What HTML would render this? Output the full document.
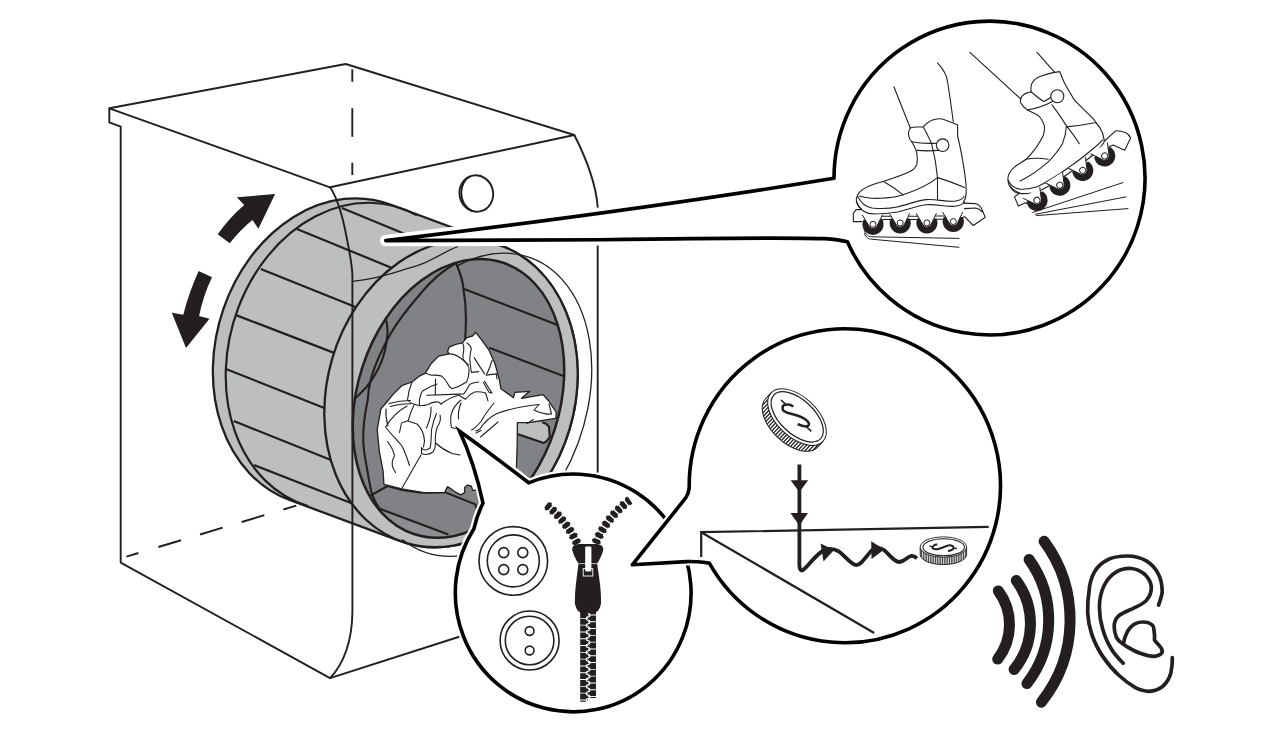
<!DOCTYPE html>
<html><head><meta charset="utf-8">
<style>
html,body{margin:0;padding:0;background:#fff;}
body{width:1283px;height:733px;overflow:hidden;font-family:"Liberation Sans",sans-serif;}
svg{display:block;}
</style></head><body>
<svg width="1283" height="733" viewBox="0 0 1283 733">
<rect width="1283" height="733" fill="#fff"/>

<g fill="none" stroke="#231F20" stroke-width="1.9" stroke-linejoin="round">
<path d="M109.3 108.3 L345.7 64 L574.3 135 L330 187.3 Z"/>
<path d="M109.3 108.3 V122.3 L120.7 126.7 V562.6 L330 678.1 L460 636.5"/>
<path d="M574.3 135 C586 158 596 185 597.7 207 V480"/>
<path d="M352.3 69.3 V81.7 M352.3 108.3 V136.7 M352.3 162.7 V175"/>
<path d="M126.4 556.6 L300 504.5" stroke-dasharray="12.5 20.9 23.6 19.9 23.6 19.9 23.6 19.9 13.5 100"/>
<ellipse cx="476.3" cy="193.5" rx="16.8" ry="18.3" transform="rotate(-12 476.3 193.5)" stroke-width="1.9"/>
<path d="M470 176.5 C459 182 457 203 472 211" />
</g>
<path d="M390.3 204.5 A123.8 156.1 16.5 0 0 288.9 499.7 L400.3 541.1 A123.8 156.1 16.5 0 0 501.7 245.9 Z" fill="#BCBEC0" stroke="#231F20" stroke-width="2.3" stroke-linejoin="round"/>
<path d="M416.9 215.3 A123.8 156.1 16.5 1 0 307.9 506.1" fill="none" stroke="#231F20" stroke-width="2.2"/>
<path d="M341.9 208.1 L406.2 234.6 M295.7 228.4 L402.9 272.5 M260.8 268.9 L364.2 310.6 M236.0 315.1 L344.5 356.9 M226.6 369.3 L335.0 412.2 M233.8 421.1 L341.0 463.9 M254.0 465.0 L361.2 507.1 " fill="none" stroke="#231F20" stroke-width="2.2"/>
<ellipse cx="451.0" cy="393.5" rx="123.8" ry="156.1" transform="rotate(16.5 451.0 393.5)" fill="#BCBEC0" stroke="#231F20" stroke-width="2.3"/>
<clipPath id="opclip"><ellipse cx="458.5" cy="398.4" rx="101.1" ry="142.8" transform="rotate(17.9 458.5 398.4)"/></clipPath>
<ellipse cx="458.5" cy="398.4" rx="101.1" ry="142.8" transform="rotate(17.9 458.5 398.4)" fill="#808285" stroke="none"/>
<g clip-path="url(#opclip)"><g fill="none" stroke="#231F20" stroke-width="2.1" stroke-linecap="butt" stroke-linejoin="round">
<!-- floor sliver lighter -->
<path d="M372.3 494.6 L379.6 508.7 L448.4 534.4 L480 530 L470 560 L380 540 Z" fill="#8C8E91" stroke="none"/>
<!-- lifter -->
<path d="M518 422.2 L542.3 422.2 C545 423 547.5 424.8 549 426.7 L549.7 437 C548 440 546 442 543.8 442.9 L518 434.3 Z" fill="#BCBEC0" stroke="none"/>
<path d="M518 434.3 L543.8 442.9 C546 442 548 440 549.7 437 L549 426.7 C547.5 424.8 545 423 542.3 422.2"/>
<!-- far wall edge -->
<path d="M456 263 C461 275 463.2 282 463.4 288.7 C465.5 300 466 310 465.9 318.2 C465.9 328 465.3 338 464.6 350"/>
<!-- inner thickness arc -->
<path d="M456 263 C440 272 430 282 420.5 293.7 C408 308 398 321 391 333 C382 349 375.5 363 371.4 377.1 C369 386 368 393 367.7 400 C364.5 415 363 428 363.2 440 C363.5 450 365 458 366.7 466.6 C368 475 369.5 483 371.2 491.4 C373 497 376 504 379.6 508.7"/>
<!-- crescent -->
<path d="M384.9 317 C387.5 323 388 329 387.3 335.4 C386.5 345 384.5 354 381.2 362.4 C377.5 371.5 372.5 379.5 366.5 387 C362 392 357 397 352 401"/>
<!-- ribs -->
<path d="M463.4 288.7 L566 328.3 M489.2 347.7 L572 379.4"/>
<!-- floor -->
<path d="M370 495.9 L387.6 486 L400.5 489.6 L421.4 492.7 L444.7 492.1 L475.4 504.4 L478 513"/>
<path d="M379.6 508.7 L448.4 534.4"/>
</g>
</g>
<g id="cloth">
<path d="M475.7 332.4 L481.6 339.8 L489 350.2 L494.9 363.5 L499.4 379.8 L500.9 388.7 L513.5 397.6 L514.9 392.4 L529.7 391.3 L521.6 398.3 L543.1 394.6 L548.3 400.5 L556.4 412.4 L555.7 418.3 L537.9 421.2 L529 422.7 L517.4 422.7 L517.2 445 L516.4 468.1 L500 490 L472.7 490.3 L471.3 486.2 L467.6 485.1 L464.6 487.4 L464.6 492.6 L460.9 494.8 L455 491.8 L447.6 486.6 L444.6 492.6 L423.9 492.6 L401.7 488.9 L383.9 484.4 L383.1 471.1 L379.4 451.8 L377.2 429.6 L380.9 408.9 L386.8 402 L392.8 394.6 L401.7 385.7 L412 382 L419.4 376.1 L425.3 373.1 L431.3 363.5 L438.7 356.1 L449 353.9 L447.6 351.7 L449 347.2 L455.7 344.3 L462.4 342.8 L466.8 337.6 L472.5 336 Z" fill="#fff" stroke="#231F20" stroke-width="1.3" stroke-linejoin="round"/>
<g fill="none" stroke="#231F20" stroke-width="1.1" stroke-linecap="round" stroke-linejoin="round">
<path d="M449 353.9 C454 353.5 460 357 465.3 362 C468 365 469.3 368 469 371 C469 375 468.5 378 466.5 382 C462 385 457 387.5 452 388.7 C449.5 387.5 448.5 385.5 447.6 383.5 C446 380.5 444 378 441.6 376.1 C438 375 434.5 375 431.3 375.3 C429 374.5 427 373.8 425.3 373.1"/>
<path d="M462.4 342.8 C463.8 345 464 348 463.8 350.2 C463 353.5 462.5 356 463.1 359.1 C464.5 361.5 466.5 363.5 468.5 365"/>
<path d="M466.8 342.8 C469 344.5 471 346.5 471.3 348.7 C470.5 352 469.8 355.5 469.8 359.1 C470 363.5 470.8 368 471.3 372.4 L478.7 371.6"/>
<path d="M474.2 357.6 C477.5 363 481 368.5 484.6 373.9"/>
<path d="M492 360.5 C490.5 366 488.5 371 486.1 375.3 C489.5 374.5 493 374.2 496.4 373.9 L497 379"/>
<path d="M484.6 381.3 C487 385.5 489.5 389.5 492 393.1 L489 392.3 C487 389 485 385.5 483.5 382.5"/>
<path d="M426.8 395.3 C439 395 452 394.5 463.8 393.9 C466 391 468 387.5 469.8 384.2 C472.5 383 475.5 382.3 478.7 382"/>
<path d="M435.5 379 L435.3 394.5"/>
<path d="M412 382 C409.5 388 408 394 407.5 400 C410 403 414 404.5 419 405.5 C422 406 425 405.5 428 404.5 C431.5 402 435 401.5 438.5 402 L441 404"/>
<path d="M389 403.5 C396 401.5 403 400.5 410.5 400.5 M390.5 406.5 C397 404.5 404 404 411 403.8"/>
<path d="M419.5 405.5 C419 400 420 395 422.5 391 C427 388 432 385.5 437 384"/>
<path d="M441 404 C447 399.5 453 396.5 459 395 C461.5 397 463.5 398.5 465.5 399"/>
<path d="M465.5 399 C468 396 471 393.5 474.5 392 C478 391.5 482 392 485.5 393 C486.5 396 487.5 398.5 488 401"/>
<path d="M461 400 C456 404 452.5 409 451 415 C450.5 420 450.5 424 451.5 427.5 C456 428.5 461 430 465.5 432.5 L472 435"/>
<path d="M461 403 C459 408 458 413.5 458.5 419"/>
<path d="M494 403 C489 409 484.5 415 481 421.5 C478 425 475 428 471.5 430"/>
<path d="M539 404.5 C524 406 509 409 497 413.5 C490 417 484 422.5 480 429 L476 431"/>
<path d="M539 404.5 L534 410 C540 413 546 414.5 551.5 414 L549 404"/>
<path d="M476 433 L481 430.5 M480.5 437 L498 422 M533.5 419.5 L527 423.5"/>
<path d="M386 409 C385.5 415 386.5 421 388 426"/>
<path d="M407 406 C398 411 391 418 385.5 427 C390 433 396 439 402 446 C405 452 407.5 459 409.5 465.5"/>
<path d="M414 405 C411.5 410 409.5 415.5 408 421 C411 422 414 423 417 424 C421.5 428 424 434 424.5 441 L423.5 447"/>
<path d="M407.5 421 C404 422 401.5 422.5 401.5 423 L399.5 432.5"/>
<path d="M431 407 C431.5 414 429.5 421 426.5 428"/>
<path d="M436.5 413.5 C434.5 418 432.5 424 431.5 430 C431 437 431.5 443 430 448 C427 450.5 423 451 421.5 447.5 L421.5 453.5 C425 455 429.5 454.5 433 452 C435 449 435.5 446 435.5 443"/>
<path d="M440 415 C441 419 440 423 437.5 426.5 C435.5 432 435 438 435.5 443"/>
<path d="M435.5 443 C440 447 446 451 452 453.5 L460 455"/>
<path d="M421 455 L401.5 489"/>
<path d="M387.5 441.5 C391 446 393.5 451 394.5 456 C392 460 391.5 464 393 468 L395.5 472.5"/>
</g>
</g>

<ellipse cx="458.5" cy="398.4" rx="101.1" ry="142.8" transform="rotate(17.9 458.5 398.4)" fill="none" stroke="#231F20" stroke-width="2.5"/>
<path d="M456.4 266.4 A107.9 156.4 19.8 1 1 402.9 540.1 L400.3 541.1" fill="none" stroke="#231F20" stroke-width="1.3"/>
<path d="M353.1 281.3 C370 279.5 388 275 404.1 269.6 C411 267.5 418 265.5 424.6 262.8 C432 259.5 439.5 255.5 446.4 251.8 C450 249.8 454 248 458 246.5" fill="none" stroke="#231F20" stroke-width="1.3"/>
<path d="M330 187.3 C337 197 341 212 344.1 225 C348 244 352 262 352.4 275 V612 C352.2 640 344 664 330 678.1" fill="none" stroke="#231F20" stroke-width="1.9"/>
<g fill="#231F20" stroke="none">
<path d="M217.7 234.2 L229.7 243.2 Q240.1 230.1 252.4 220 L258.4 228.7 L275.1 194 L236.8 197.3 L244.2 204.9 Q229.2 217.8 217.7 234.2 Z"/>
<path d="M198.6 271 L212 277.3 Q203.2 295.6 199.1 316.1 L209.5 318.8 L186 348 L171.8 312.8 L183.3 314.7 Q188.8 292.9 198.6 271 Z"/>
</g>

<g id="b1">
<clipPath id="haloclip"><rect x="370" y="150" width="440" height="110"/></clipPath>
<path d="M385.7 240.6 C534.7 222.8 683.4 202.9 834 178.3 A155.5 156.9 0 1 1 847.4 241.8 Q839 239.6 824.5 238.6 C780 237.3 700 238.3 600 239.8 L385.7 240.6 Z" fill="none" stroke="#fff" stroke-width="11.5" stroke-linejoin="round" clip-path="url(#haloclip)"/>
<path d="M385.7 240.6 C534.7 222.8 683.4 202.9 834 178.3 A155.5 156.9 0 1 1 847.4 241.8 Q839 239.6 824.5 238.6 C780 237.3 700 238.3 600 239.8 L385.7 240.6 Z" fill="#fff" stroke="#000" stroke-width="3.6" stroke-linejoin="round"/>
<!-- skate 1 -->
<g fill="none" stroke="#231F20" stroke-width="1.1" stroke-linejoin="round" stroke-linecap="round">
<path d="M893.9 86.7 L910.3 128"/>
<path d="M937.5 62.9 C944 70 947 76 947.5 81.5 C950 96 951.5 109 953.3 121.7"/>
<!-- boot outline -->
<path d="M910.3 128 C915 126 919 127.5 923.2 126.8 C926 124 928.5 121.5 931.8 120.3 C935 119 937.5 118.6 940.4 118.8 C946.5 120 952 122.5 957.6 125.1 L957.6 136 C960 146 962 155 963.3 164.7 C965 174 966.5 184 966.2 193.4 C966 197 965 200 963.3 202"/>
<path d="M910.3 128 C908.5 131 908 133.5 908.8 136 C909 138.5 910 140 911.7 141.8 C914 145.5 916 149 916.8 153.2 C917.5 157 917.5 161 916.8 164.7 C915 168.5 912.5 170.5 908.8 171.9 C901 175.5 893.5 178 885.9 180.5 C880 182.5 874 184 868.7 186.2 C864.5 188 861 190 858.6 193.4 C856.5 196.5 856 199.5 856.6 202 C857.5 205 859 207.5 861.5 209.1"/>
<!-- sole -->
<path d="M856.6 202 C859 208 863 212 868.7 213.4 C878 214.8 888 213.5 897.3 212 C907 210 916.5 206 926 204.8 C936 203.8 945 207 954.7 206.3 C959 205.8 962.5 204.5 964.7 202"/>
<path d="M857.8 196.5 C861 203 866 207 872 208 C882 209 890 208.5 897.3 207 C907 205 916.5 200.5 926 199.6 C936 198.8 945 202 954.7 201.2 C959 200.7 962.5 199 964 196.5"/>
<!-- toe cap -->
<path d="M884.4 181.9 C891 185.5 897.5 190 903.1 194.8"/>
<path d="M859.5 196 C870 199.5 890 199 903.1 194.8 C916 190.5 929 184.5 937.5 177.6"/>
<!-- strap -->
<path d="M911.7 141.8 C920 143.5 929 143.6 937.5 143.2"/>
<path d="M916.8 150.4 C924 151 931 151 938.9 150.4"/>
<circle cx="942.6" cy="145.2" r="6.3" fill="#fff"/>
<!-- back seam -->
<path d="M923.2 126.8 C926 132 929.5 138 931.8 144.6 C934.5 155 936.5 166 937.5 177.6 L937.5 199"/>
<path d="M937.5 177.6 C946 180 955 183.5 964.5 187.5"/>
<!-- frame -->
<path d="M860.9 209.6 L856 209.6 L853.3 213.5 L853.3 221.6 L862 221.6 M881 216.2 H892 M881 219.5 H892 M908 216.2 H919 M908 219.5 H919 M935 216 H946 M935 219.3 H946 M963.5 203.1 L975.5 203.6 C978 204.5 980 205.8 981 207.5 L985.3 217.3 L973.3 225.5 L964.6 216.7 L961 218 M964.6 208.6 L975.5 208 C978.5 208.5 980.5 210 982 211.8"/>
</g>
<g id="wheels1">
<g transform="translate(873 224.3)"><path d="M-9.6 -4.5 A10.6 10.6 0 1 0 9.6 -4.5 Z" fill="#231F20"/><path d="M-10.8 -9.6 L-4.4 1 A4.6 4.6 0 0 0 4.4 1 L9.5 -9.6" fill="#fff" stroke="#231F20" stroke-width="1"/><circle r="3" fill="#fff" stroke="#231F20" stroke-width="1"/></g>
<g transform="translate(900.2 222.9)"><path d="M-9.6 -4.5 A10.6 10.6 0 1 0 9.6 -4.5 Z" fill="#231F20"/><path d="M-10.8 -9.6 L-4.4 1 A4.6 4.6 0 0 0 4.4 1 L9.5 -9.6" fill="#fff" stroke="#231F20" stroke-width="1"/><circle r="3" fill="#fff" stroke="#231F20" stroke-width="1"/></g>
<g transform="translate(926.9 222.9)"><path d="M-9.6 -4.5 A10.6 10.6 0 1 0 9.6 -4.5 Z" fill="#231F20"/><path d="M-10.8 -9.6 L-4.4 1 A4.6 4.6 0 0 0 4.4 1 L9.5 -9.6" fill="#fff" stroke="#231F20" stroke-width="1"/><circle r="3" fill="#fff" stroke="#231F20" stroke-width="1"/></g>
<g transform="translate(953.3 221.5)"><path d="M-9.6 -4.5 A10.6 10.6 0 1 0 9.6 -4.5 Z" fill="#231F20"/><path d="M-10.8 -9.6 L-4.4 1 A4.6 4.6 0 0 0 4.4 1 L9.5 -9.6" fill="#fff" stroke="#231F20" stroke-width="1"/><circle r="3" fill="#fff" stroke="#231F20" stroke-width="1"/></g>
</g>
<g fill="none" stroke="#231F20" stroke-width="1" stroke-linecap="round">
<path d="M864.4 230.6 C866 235 868 236.5 872 236.8 L959 238.4"/>
<path d="M864.4 233.5 C866 238 868.5 239 871.5 239.2 L959 247.3"/>
</g>
<!-- skate 2 -->
<g fill="none" stroke="#231F20" stroke-width="1.1" stroke-linejoin="round" stroke-linecap="round">
<path d="M969.9 52.4 L1020.9 99.1"/>
<path d="M1037 52.4 L1054.7 72.4"/>
<path d="M1054.7 72.4 L1059.8 71.6 C1061.5 76 1063 80 1065 84.1 C1068 89.5 1071 94.5 1074.1 99.6 C1079 105 1084.5 110 1089.7 115.2 C1092 117.5 1094.5 120 1096.2 123 C1099 126 1101 129 1102.1 132.1 C1103 134 1103.4 135.8 1103.4 137.3"/>
<path d="M1054.7 72.4 C1048.5 73.5 1043 75 1037.8 77.6 C1034.5 79.5 1032 82 1031.3 85.4 C1030.8 87.5 1030.8 89.8 1031.3 91.9 C1027.5 92.5 1024.5 93.5 1022.2 95.8 C1020.5 97.8 1020 100 1020.4 102.2 C1022 105.5 1024.5 108 1027.4 110 C1031 111.8 1034.5 113.2 1037.8 115.2 C1041 118 1043 121.5 1044.3 125.6 C1044.8 129.5 1044.3 133 1043 136 C1040.8 140.5 1038 144.8 1035.2 148.9 C1032.5 152.5 1029.5 156 1026.1 159.3 C1022.5 162 1018 164 1014.5 167.1 C1011 170 1008.5 173.5 1008 177.5 C1007.8 180.5 1008.2 183 1009.3 185.2 C1012 189 1015.5 191.5 1019.6 193"/>
<path d="M1008 180 C1010.5 185 1014.5 188.5 1019.6 189.1 C1026 189.5 1032 188.5 1037.8 186.5 C1047 182 1055.5 176.5 1063.7 171 C1072.5 165 1081.5 158.5 1089.7 151.5 C1094.5 147.5 1099 144 1102.6 139.8"/>
<path d="M1009.3 185.2 C1012 190.5 1016 193.5 1021 193.6 C1028 194 1034.5 192.5 1040.4 190.4 C1049.5 186 1058 180.5 1066.3 175 C1075 169 1084 162.5 1092.2 155.5 C1097 151.5 1101 147.5 1103.9 142.5 C1104.5 140.5 1104 138.5 1103.4 137.3"/>
<!-- strap -->
<path d="M1031.3 91.9 C1036 96 1040 99.5 1044 101.5 C1047.5 100 1050.5 98 1053.4 95"/>
<path d="M1027.4 110 C1036 108.5 1045 105.5 1053.4 100.9"/>
<circle cx="1057.3" cy="96.3" r="6.5" fill="#fff"/>
<path d="M1052 104.8 C1057 111.5 1062 118.5 1066.3 125.6 C1071 131.5 1075.5 137.5 1079.3 143.7"/>
<path d="M1066.3 126.9 C1076 126 1086 124.5 1096.2 122.5"/>
<path d="M1066.3 126.9 C1066 133 1064.5 138.5 1062.4 143.7 C1058.5 150.5 1053.5 156.5 1048.2 161.9 C1040 169 1030 176.5 1020 181"/>
<path d="M1026.1 159.3 C1033 158 1041 158 1048.2 159.3"/>
<!-- frame -->
<path d="M1019.6 193 L1014.5 196.9 L1018.4 206 L1024.8 202.9 L1027 203.5 M1104.5 141 L1115.6 130.8 C1119 130.5 1122.5 131.5 1126 132.8 C1128 134 1129.6 135.8 1130.6 138 L1124.7 150.2 L1113 145 L1108 147.5"/>
</g>
<g id="wheels2">
<g transform="translate(1037 200.3) rotate(-33)"><path d="M-9.6 -4.5 A10.6 10.6 0 1 0 9.6 -4.5 Z" fill="#231F20"/><path d="M-10.8 -9.6 L-4.4 1 A4.6 4.6 0 0 0 4.4 1 L9.5 -9.6" fill="#fff" stroke="#231F20" stroke-width="1"/><circle r="3" fill="#fff" stroke="#231F20" stroke-width="1"/></g>
<g transform="translate(1059.8 185.2) rotate(-33)"><path d="M-9.6 -4.5 A10.6 10.6 0 1 0 9.6 -4.5 Z" fill="#231F20"/><path d="M-10.8 -9.6 L-4.4 1 A4.6 4.6 0 0 0 4.4 1 L9.5 -9.6" fill="#fff" stroke="#231F20" stroke-width="1"/><circle r="3" fill="#fff" stroke="#231F20" stroke-width="1"/></g>
<g transform="translate(1082.7 170.4) rotate(-33)"><path d="M-9.6 -4.5 A10.6 10.6 0 1 0 9.6 -4.5 Z" fill="#231F20"/><path d="M-10.8 -9.6 L-4.4 1 A4.6 4.6 0 0 0 4.4 1 L9.5 -9.6" fill="#fff" stroke="#231F20" stroke-width="1"/><circle r="3" fill="#fff" stroke="#231F20" stroke-width="1"/></g>
<g transform="translate(1104.7 155.9) rotate(-33)"><path d="M-9.6 -4.5 A10.6 10.6 0 1 0 9.6 -4.5 Z" fill="#231F20"/><path d="M-10.8 -9.6 L-4.4 1 A4.6 4.6 0 0 0 4.4 1 L9.5 -9.6" fill="#fff" stroke="#231F20" stroke-width="1"/><circle r="3" fill="#fff" stroke="#231F20" stroke-width="1"/></g>
</g>
<g fill="none" stroke="#231F20" stroke-width="1" stroke-linecap="round">
<path d="M1032.6 212.5 L1122.9 182.6"/>
<path d="M1035.2 214.3 L1126 196.9"/>
<path d="M1036.5 215.6 L1128 208.6"/>
</g>
</g>

<g id="b3">
<clipPath id="halo3"><rect x="430" y="400" width="280" height="330"/></clipPath>
<path id="b3p" d="M459.6 431.2 Q483 446 528.7 482.8 A117.9 118.9 0 1 1 473.9 528.8 Q477 515 483 503.2 Q476 465 459.6 431.2 Z" fill="none" stroke="#fff" stroke-width="8" stroke-linejoin="round" clip-path="url(#halo3)"/>
<path d="M459.6 431.2 Q490 453 528.7 482.8 A117.9 118.9 0 1 1 473.9 528.8 Q477 515 483 503.2 Q474.5 463 459.6 431.2 Z" fill="#fff" stroke="#000" stroke-width="3.6" stroke-linejoin="miter" stroke-miterlimit="6"/>
<g fill="none" stroke="#231F20" stroke-width="1.6">
<circle cx="513.3" cy="560.9" r="34.3"/>
<circle cx="513.3" cy="560.9" r="26"/>
<circle cx="503.7" cy="552.6" r="5"/><circle cx="522.8" cy="552.6" r="5"/><circle cx="503.7" cy="569.6" r="5"/><circle cx="522.8" cy="569.6" r="5"/>
<circle cx="529.6" cy="640.5" r="29.5"/>
<circle cx="529.6" cy="640.5" r="24.3"/>
<circle cx="529.6" cy="631" r="4.4"/><circle cx="529.6" cy="650.5" r="4.4"/>
</g>
<!-- zipper -->
<g fill="none" stroke="#231F20">
<path d="M577.5 544 C571 530 560 515 545 504" stroke-width="6.6" stroke-dasharray="5 1.5"/>
<path d="M577.5 544 C571 530 560 515 545 504" stroke-width="9" stroke-dasharray="2.6 3.9" stroke-dashoffset="-1.2"/>
<path d="M595.5 543.5 C601 530 612 513 630 500" stroke-width="6.6" stroke-dasharray="5 1.5"/>
<path d="M595.5 543.5 C601 530 612 513 630 500" stroke-width="9" stroke-dasharray="2.6 3.9" stroke-dashoffset="-1.2"/>
<path d="M584.1 612 V701.7" stroke-width="7.8" stroke-dasharray="5.9 0.9"/>
<path d="M592.1 612 V698" stroke-width="7.8" stroke-dasharray="5.9 0.9" stroke-dashoffset="3.4"/>
<path d="M588.1 613.5 c2.6 0 2.6 3.4 0 3.4 c-2.6 0 -2.6 3.4 0 3.4 c2.6 0 2.6 3.4 0 3.4 c-2.6 0 -2.6 3.4 0 3.4 c2.6 0 2.6 3.4 0 3.4 c-2.6 0 -2.6 3.4 0 3.4 c2.6 0 2.6 3.4 0 3.4 c-2.6 0 -2.6 3.4 0 3.4 c2.6 0 2.6 3.4 0 3.4 c-2.6 0 -2.6 3.4 0 3.4 c2.6 0 2.6 3.4 0 3.4 c-2.6 0 -2.6 3.4 0 3.4 c2.6 0 2.6 3.4 0 3.4 c-2.6 0 -2.6 3.4 0 3.4 c2.6 0 2.6 3.4 0 3.4 c-2.6 0 -2.6 3.4 0 3.4 c2.6 0 2.6 3.4 0 3.4 c-2.6 0 -2.6 3.4 0 3.4 c2.6 0 2.6 3.4 0 3.4 c-2.6 0 -2.6 3.4 0 3.4 c2.6 0 2.6 3.4 0 3.4 c-2.6 0 -2.6 3.4 0 3.4 c2.6 0 2.6 3.4 0 3.4 c-2.6 0 -2.6 3.4 0 3.4 c2.6 0 2.6 3.4 0 3.4 c-2.6 0 -2.6 3.4 0 3.4" stroke="#fff" stroke-width="1.1"/>
</g>
<path d="M572.2 550 C572 546 575 544.3 579 544.1 L596.5 544.1 C600.5 544.3 603.5 546 603.3 550 C602 555 599.5 560 597.1 563.6 C599 577 601.5 590 601 603.5 C600 609 597.5 612.6 594 612.8 L582 612.8 C578.5 612.6 576 609 574.9 603.5 C574.5 590 577 577 578.5 563.6 C576 560 573.5 555 572.2 550 Z" fill="#231F20"/>
<rect x="585.2" y="546.4" width="6.2" height="25" rx="1" fill="#fff"/>
<rect x="583.2" y="568.6" width="9.6" height="7.4" fill="none" stroke="#fff" stroke-width="0.9"/>
<path d="M578.5 563.6 H597.1" stroke="#fff" stroke-width="0.7"/>
</g>

<g id="b2">
<path d="M689.2 488 A155.65 156.95 0 1 1 709.5 563.3 Q704 562 697 561.7 Q690 561.4 686.4 561.6 L632.3 564.8 L685.5 498.2 Q688.6 494 689.2 488 Z" fill="none" stroke="#fff" stroke-width="8" stroke-linejoin="round"/>
<path d="M689.2 488 A155.65 156.95 0 1 1 709.5 563.3 Q704 562 697 561.7 Q690 561.4 686.4 561.6 L632.3 564.8 L685.5 498.2 Q688.6 494 689.2 488 Z" fill="#fff" stroke="#000" stroke-width="3.6" stroke-linejoin="round"/>
<g fill="none" stroke="#231F20" stroke-width="2.2">
<path d="M701.2 557 V532.2 L988.7 526.8"/>
<path d="M701.2 532.2 L874.2 633"/>
</g>
<!-- arrows -->
<g fill="none" stroke="#231F20" stroke-width="3.8" stroke-linejoin="round" stroke-linecap="butt">
<path d="M799.4 464.5 V560 C799 568 800 571.5 803 570 C808 567 814 556 824 550 C829 548 834 548.5 839 551.5 C845 556 850 563.5 855.5 565 C861 566 866 556 872 550 C876 547.5 880 547.5 884 550 C889 554 894 562 899 562 C904 562 907 557 911 556 C913.5 555.7 915.5 557 917 558.4"/>
</g>
<g fill="#231F20">
<path d="M790.6 480.2 L808.2 480.2 L799.4 492 Z"/>
<path d="M790.4 513 L808 513 L799.4 525.5 Z"/>
<path d="M820.6 543.6 L834 550 L823.5 561.5 Z"/>
<path d="M871.2 541.2 L884.3 549.6 L871.5 559 Z"/>
</g>
<!-- coin 1 -->
<g transform="translate(797 417.1) rotate(43)">
<clipPath id="c1edge"><path d="M-35.5 0 V8 A35.5 20 0 0 0 35.5 8 V0 A35.5 20 0 0 1 -35.5 0 Z"/></clipPath>
<path d="M-35.5 0 V8 A35.5 20 0 0 0 35.5 8 V0 Z" fill="#231F20"/>
<path d="M-40.0 -25 V35 M-37.3 -25 V35 M-34.6 -25 V35 M-31.9 -25 V35 M-29.2 -25 V35 M-26.5 -25 V35 M-23.8 -25 V35 M-21.1 -25 V35 M-18.4 -25 V35 M-15.7 -25 V35 M-13.0 -25 V35 M-10.3 -25 V35 M-7.6 -25 V35 M-4.9 -25 V35 M-2.2 -25 V35 M0.5 -25 V35 M3.2 -25 V35 M5.9 -25 V35 M8.6 -25 V35 M11.3 -25 V35 M14.0 -25 V35 M16.7 -25 V35 M19.4 -25 V35 M22.1 -25 V35 M24.8 -25 V35 M27.5 -25 V35 M30.2 -25 V35 M32.9 -25 V35 M35.6 -25 V35 M38.3 -25 V35 M41.0 -25 V35" stroke="#fff" stroke-width="1.45" fill="none" clip-path="url(#c1edge)"/>
<path d="M-35.5 0 V8 A35.5 20 0 0 0 35.5 8 V0" fill="none" stroke="#231F20" stroke-width="1"/>
<ellipse cx="0" cy="0" rx="35.5" ry="20" fill="#fff" stroke="#231F20" stroke-width="1"/>
<ellipse cx="0" cy="-0.3" rx="32" ry="17" fill="#fff" stroke="#231F20" stroke-width="1.2"/>
</g>
<path d="M793.2 406.7 C791.5 405 789.5 404.4 787.7 404.6 C785 404.8 783.3 405.3 782.8 406.2 C782.3 408 782.5 409.8 783.9 411.1 C786 412.6 788.5 413.3 791 413.8 C793.5 414.4 796 415 798.7 416 C801 416.8 803.3 417.8 805.2 419.3 C807 420.6 808.6 422 809 423.7 C809 425.3 808 426.2 806.3 426.4 C803.5 426.3 800.5 425.5 797.6 424.2" fill="none" stroke="#231F20" stroke-width="2.5" stroke-linecap="butt"/>
<path d="M781 400 L786.3 404.8 M806 426.2 L811.3 431.4" fill="none" stroke="#231F20" stroke-width="1.6"/>
<!-- coin 2 -->
<g transform="translate(943.4 547)">
<clipPath id="c2edge"><path d="M-23.2 0 V7.5 A23.2 10.1 0 0 0 23.2 7.5 V0 A23.2 10.1 0 0 1 -23.2 0 Z"/></clipPath>
<path d="M-23.2 0 V7.5 A23.2 10.1 0 0 0 23.2 7.5 V0 Z" fill="#231F20"/>
<path d="M-24.50 -12 V20 M-22.75 -12 V20 M-21.00 -12 V20 M-19.25 -12 V20 M-17.50 -12 V20 M-15.75 -12 V20 M-14.00 -12 V20 M-12.25 -12 V20 M-10.50 -12 V20 M-8.75 -12 V20 M-7.00 -12 V20 M-5.25 -12 V20 M-3.50 -12 V20 M-1.75 -12 V20 M0.00 -12 V20 M1.75 -12 V20 M3.50 -12 V20 M5.25 -12 V20 M7.00 -12 V20 M8.75 -12 V20 M10.50 -12 V20 M12.25 -12 V20 M14.00 -12 V20 M15.75 -12 V20 M17.50 -12 V20 M19.25 -12 V20 M21.00 -12 V20 M22.75 -12 V20 M24.50 -12 V20" stroke="#fff" stroke-width="0.85" fill="none" clip-path="url(#c2edge)"/>
<path d="M-23.2 0 V7.5 A23.2 10.1 0 0 0 23.2 7.5 V0" fill="none" stroke="#231F20" stroke-width="0.9"/>
<ellipse cx="0" cy="0" rx="23.2" ry="10.1" fill="#fff" stroke="#231F20" stroke-width="0.9"/>
<ellipse cx="0.3" cy="0.2" rx="20.8" ry="8.5" fill="#fff" stroke="#231F20" stroke-width="1.1"/>
</g>
<path d="M937.3 544.4 C935.8 544.3 934.6 544.8 933.9 545.5 C932.6 546.5 932.2 547.4 932.5 548.2 C933.5 549.3 935.3 549.5 937.3 549.2 C939.3 548.8 941 548.2 942.7 547.5 C944.5 546.7 946.3 545.9 948.2 545.5 C949.8 545.2 951.2 545.3 952.3 545.8 C953.4 546.5 953.9 547.3 953.7 548.2 C953.2 549.2 952.2 549.8 950.9 550.2 C949.9 550.6 948.9 550.8 947.9 550.9" fill="none" stroke="#231F20" stroke-width="2"/>
<path d="M929.4 546.2 L932.7 546.8 M953.5 548.2 L956.8 548.5" fill="none" stroke="#231F20" stroke-width="1.3"/>
</g>

<g fill="none" stroke="#231F20" stroke-linecap="round" stroke-linejoin="round">
<g stroke-width="11">
<path d="M998.3 590.9 A56.3 56.3 0 0 1 997.7 659.1"/>
<path d="M1016.3 580.5 A72.7 72.7 0 0 1 1014.1 669.5"/>
<path d="M1029.1 559.5 A103.4 103.4 0 0 1 1026.9 683.6"/>
<path d="M1044.1 541.3 A132.2 132.2 0 0 1 1041.4 702.2"/>
</g>
<g stroke-width="3.7">
<path d="M1158.6 605.1 C1161 598 1162.5 594 1162.2 590.9 C1162 584 1161 579 1158.6 574.5 C1155.5 568 1151.5 564 1146.3 560.9 C1140.5 557.5 1134.5 556 1127.3 556 C1120 556 1113.5 557 1108.2 559.5 C1102 562.5 1097.5 566.5 1094.5 571.8 C1091 578 1089.5 584 1089.1 590.9 C1088 598 1087.4 605 1087.7 612.7 C1088 620 1089.5 627.5 1091.8 634.5 C1094.5 642 1098 649.5 1102.7 656.4 C1107.5 663.5 1113 670 1119.1 675.5 C1124.5 680.5 1130 684.5 1135.4 687.7 C1140 690 1144.5 691.5 1149.1 691.3 C1154 691 1158.5 689.5 1162.7 686.4 C1166.5 683 1169.5 678 1170.9 672.7 C1172 667.5 1172.5 662.5 1172.3 657.7"/>
<path d="M1123.2 663.2 C1118.5 658.5 1114 653.5 1110.9 648.2 C1107 642 1104.5 635.5 1102.7 629.1 C1100.5 622 1099.4 614.5 1099.4 607.3 C1099.4 599.5 1101 592 1104.1 585.5 C1107 579.5 1111 575 1116.4 571.8 C1121 569.2 1126 568.2 1131.4 568.5 C1136.5 569 1141 571 1145 574.5 C1148.5 578 1150.8 582 1151.3 586.8 C1151.5 592 1150 596.5 1146.3 600.5 C1142.5 604 1137.5 606.5 1132.7 608.6 C1128 610.8 1123 612.5 1119.1 615.5 C1116 618 1114.2 622 1114.2 626.4 C1114.2 630.5 1115 634 1116.4 637.3 C1118 640.5 1120.5 642.5 1123.2 644.1 C1124 639.5 1125.3 635.5 1127.3 631.8 C1129.5 628 1132 625.3 1135.4 623.6 C1139 622 1142.8 621.7 1146.3 622.3 C1149.5 623 1152 624.3 1153.2 626.4 C1154.3 629 1154 632 1154.5 634.5 C1154.6 637 1154.5 638.5 1154.5 640 C1156.5 643 1159.5 645.5 1161.3 648.2 C1162.5 650.3 1162.5 652.3 1161.3 653.6 C1159.5 655.3 1157 656.2 1154.5 656.4 C1150 656.5 1145.5 655.3 1140.9 653.6 C1136 651.8 1131.5 649.3 1127.3 646.8 C1125.8 646 1124.5 645 1123.2 644.1"/>
</g>
</g>

</svg></body></html>
